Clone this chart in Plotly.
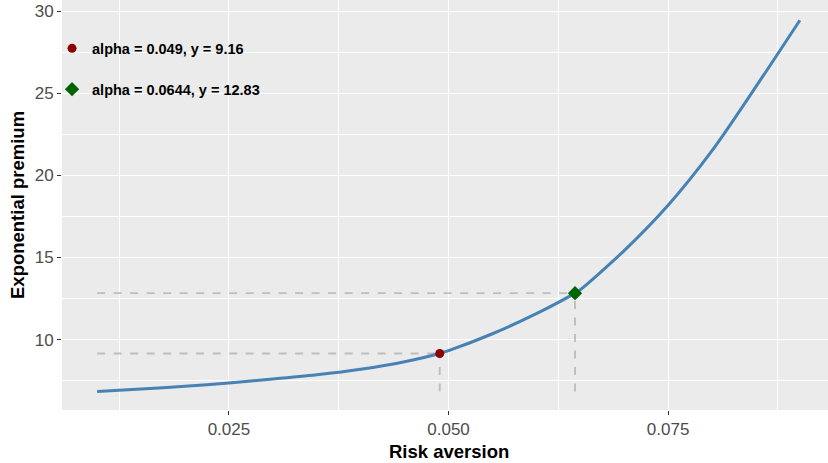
import plotly.graph_objects as go

# Curve
alpha = [0.010, 0.015, 0.020, 0.025, 0.030, 0.035, 0.040, 0.045, 0.049, 0.050,
         0.055, 0.060, 0.0644, 0.065, 0.070, 0.075, 0.080, 0.085, 0.090]
premium = [6.84, 7.00, 7.16, 7.37, 7.60, 7.86, 8.20, 8.66, 9.16, 9.33,
           10.36, 11.58, 12.83, 13.04, 15.42, 18.18, 21.50, 25.40, 29.44]

# Highlighted points
pt_alpha = [0.049, 0.0644]
pt_y = [9.16, 12.83]
pt_labels = ["alpha = 0.049, y = 9.16", "alpha = 0.0644, y = 12.83"]
pt_colors = ["#8B0000", "#006400"]
pt_symbols = ["circle", "diamond"]

x_ticks = [0.025, 0.050, 0.075]
x_ticklabels = ["0.025", "0.050", "0.075"]
y_ticks = [10, 15, 20, 25, 30]

ymin = min(premium)
xstart = alpha[0]

FONT = "Liberation Sans, Arial, sans-serif"

fig = go.Figure()

# dashed guides
for a, y in zip(pt_alpha, pt_y):
    fig.add_trace(go.Scatter(x=[xstart, a], y=[y, y], mode="lines",
                             line=dict(color="#BEBEBE", width=1.9, dash="8px,8.5px"),
                             showlegend=False, hoverinfo="skip"))
    fig.add_trace(go.Scatter(x=[a, a], y=[ymin, y], mode="lines",
                             line=dict(color="#BEBEBE", width=1.9, dash="8px,8.5px"),
                             showlegend=False, hoverinfo="skip"))

fig.add_trace(go.Scatter(x=alpha, y=premium, mode="lines",
                         line=dict(color="#4682B4", width=3, shape="spline", smoothing=0.8),
                         showlegend=False))

for i in range(len(pt_alpha)):
    fig.add_trace(go.Scatter(x=[pt_alpha[i]], y=[pt_y[i]], mode="markers",
                             marker=dict(color=pt_colors[i], symbol=pt_symbols[i],
                                         size=9 if i == 0 else 11),
                             name=pt_labels[i], legendgroup=f"g{i}"))

fig.update_layout(
    width=828, height=463,
    margin=dict(l=62, r=0, t=0, b=53, autoexpand=False),
    paper_bgcolor="white", plot_bgcolor="#EBEBEB",
    font=dict(family=FONT, size=17, color="#4D4D4D"),
    legend=dict(x=-0.013, y=0.921, xanchor="left", yanchor="top",
                bgcolor="rgba(0,0,0,0)", traceorder="grouped", tracegroupgap=19,
                font=dict(size=14.5, color="black", family=FONT, weight="bold")),
    xaxis=dict(range=[0.006, 0.0932], tickvals=x_ticks, ticktext=x_ticklabels,
               automargin=False,
               showgrid=True, gridcolor="white", gridwidth=1.4, zeroline=False,
               ticks="outside", ticklen=4, tickcolor="#333333", tickwidth=1.2,
               minor=dict(tickvals=[0.0125, 0.0375, 0.0625, 0.0875], showgrid=True,
                          gridcolor="white", gridwidth=0.7)),
    yaxis=dict(range=[5.72, 30.67], tickvals=y_ticks,
               automargin=False,
               showgrid=True, gridcolor="white", gridwidth=1.4, zeroline=False,
               ticks="outside", ticklen=4, tickcolor="#333333", tickwidth=1.2,
               minor=dict(tickvals=[7.5, 12.5, 17.5, 22.5, 27.5], showgrid=True,
                          gridcolor="white", gridwidth=0.7)),
    annotations=[
        dict(text="<b>Risk aversion</b>", xref="paper", yref="paper",
             x=(449 - 62) / 766, y=-(451 - 410) / 410, xanchor="center", yanchor="middle",
             showarrow=False, font=dict(size=18.5, color="black", family=FONT)),
        dict(text="<b>Exponential premium</b>", xref="paper", yref="paper",
             x=(17 - 62) / 766, y=0.5, xanchor="center", yanchor="middle", textangle=-90,
             showarrow=False, font=dict(size=18.5, color="black", family=FONT)),
    ],
)

fig.write_html("out.html", config={"displayModeBar": False},
               post_script="document.body.style.margin='0';document.body.style.overflow='hidden';")
